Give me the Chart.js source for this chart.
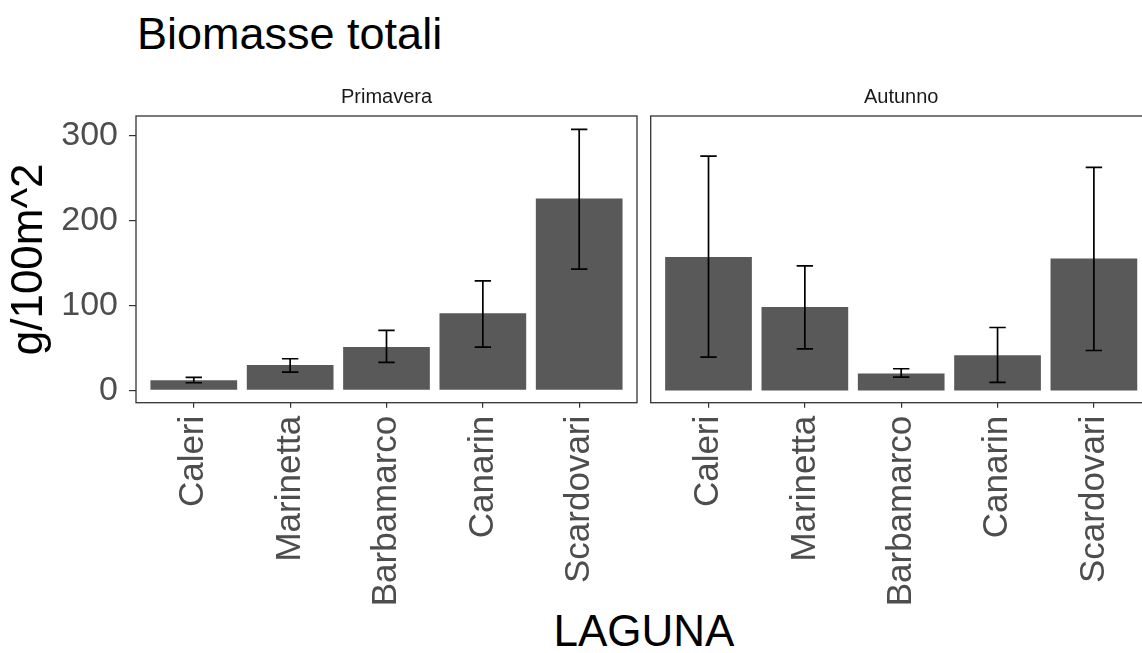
<!DOCTYPE html>
<html>
<head>
<meta charset="utf-8">
<script src="https://cdn.jsdelivr.net/npm/chart.js@4/dist/chart.umd.min.js"></script>
<style>
html,body{margin:0;padding:0;width:1142px;height:653px;overflow:hidden;background:#ffffff;}
#c1{position:absolute;left:0;top:0;}
#c2{position:absolute;left:640px;top:0;}
.t{position:absolute;font-family:"Liberation Sans",Arial,sans-serif;white-space:nowrap;font-size:44px;line-height:44px;color:#000;}
</style>
</head>
<body>
<div class="t" style="left:137px;top:12px;font-size:45px;">Biomasse totali</div>
<div class="t" style="left:0;width:1288px;text-align:center;top:609px;">LAGUNA</div>
<canvas id="c1" width="641" height="653"></canvas>
<canvas id="c2" width="520" height="653"></canvas>
<script>
const categories = ['Caleri', 'Marinetta', 'Barbamarco', 'Canarin', 'Scardovari'];
const seasons = ['Primavera', 'Autunno'];
const primaveraMean = [12, 30, 51, 91, 226];
const primaveraLow  = [9, 21.5, 33, 51, 143];
const primaveraHigh = [15.3, 37.3, 70.6, 129, 307.5];
const autunnoMean = [157.3, 98.4, 20, 41.5, 155.3];
const autunnoLow  = [39.2, 49, 15.7, 9.4, 47];
const autunnoHigh = [276.1, 146.7, 25.5, 74.1, 262.7];
const yTicks = [0, 100, 200, 300];
const yTitle = 'g/100m^2';

const FAMILY = '"Liberation Sans", Arial, sans-serif';
Chart.defaults.font.family = FAMILY;

const panelPlugin = {
  id: 'panel',
  afterDatasetsDraw(chart) {
    const ctx = chart.ctx;
    const xs = chart.scales.x, ys = chart.scales.y;
    const ds = chart.data.datasets[0];
    ctx.save();
    ctx.strokeStyle = '#000000';
    ctx.lineWidth = 1.7;
    ds.errLow.forEach((lo, i) => {
      const hi = ds.errHigh[i];
      const x = xs.getPixelForValue(i);
      const half = xs.getPixelForValue(i + 0.085) - x;
      const yl = ys.getPixelForValue(lo), yh = ys.getPixelForValue(hi);
      ctx.beginPath();
      ctx.moveTo(x, yl); ctx.lineTo(x, yh);
      ctx.moveTo(x - half, yl); ctx.lineTo(x + half, yl);
      ctx.moveTo(x - half, yh); ctx.lineTo(x + half, yh);
      ctx.stroke();
    });
    ctx.restore();
  },
  afterDraw(chart) {
    const ctx = chart.ctx;
    const a = chart.chartArea;
    ctx.save();
    ctx.strokeStyle = '#333333';
    ctx.lineWidth = 1.3;
    ctx.strokeRect(a.left, a.top, a.right - a.left, a.bottom - a.top);
    ctx.fillStyle = '#1A1A1A';
    ctx.font = '20px ' + FAMILY;
    ctx.textAlign = 'center';
    ctx.textBaseline = 'alphabetic';
    ctx.fillText(chart.data.datasets[0].label, (a.left + a.right) / 2, a.top - 13.5);
    ctx.restore();
  }
};

function makeChart(id, season, mean, low, high, showY, pad) {
  return new Chart(document.getElementById(id), {
    type: 'bar',
    data: {
      datasets: [{
        label: season,
        data: mean.map((v, i) => ({ x: i, y: v })),
        errLow: low,
        errHigh: high,
        backgroundColor: '#595959',
        borderWidth: 0,
        categoryPercentage: 0.9,
        barPercentage: 1
      }]
    },
    options: {
      responsive: false,
      animation: false,
      devicePixelRatio: 1,
      layout: { padding: pad },
      plugins: { legend: { display: false }, tooltip: { enabled: false }, title: { display: false } },
      scales: {
        x: {
          type: 'linear',
          min: -0.6,
          max: 4.6,
          offset: false,
          afterBuildTicks: s => { s.ticks = categories.map((c, i) => ({ value: i })); },
          afterFit: s => { s.height = 250.3; },
          ticks: {
            callback: v => categories[v],
            minRotation: 90, maxRotation: 90, autoSkip: false,
            color: '#4D4D4D',
            font: { family: FAMILY, size: 35 },
            padding: 8
          },
          grid: { drawOnChartArea: false, drawTicks: true, tickLength: 5, color: '#333333', lineWidth: 1.2, offset: false },
          border: { display: false }
        },
        y: {
          display: showY,
          min: -14.5,
          max: 323.3,
          afterBuildTicks: s => { s.ticks = yTicks.map(v => ({ value: v })); },
          afterFit: s => { s.width = showY ? 136 : 0; },
          ticks: {
            color: '#4D4D4D',
            font: { family: FAMILY, size: 34 },
            padding: 11
          },
          title: {
            display: true,
            text: yTitle,
            color: '#000000',
            font: { family: FAMILY, size: 44 },
            padding: { top: 3, bottom: 0 }
          },
          grid: { drawOnChartArea: false, drawTicks: true, tickLength: 7, color: '#333333', lineWidth: 1.2 },
          border: { display: false }
        }
      }
    },
    plugins: [panelPlugin]
  });
}

makeChart('c1', seasons[0], primaveraMean, primaveraLow, primaveraHigh, true, { left: 0, right: 4, top: 116, bottom: 0 });
makeChart('c2', seasons[1], autunnoMean, autunnoLow, autunnoHigh, false, { left: 10.7, right: 8.3, top: 116, bottom: 0 });
</script>
</body>
</html>
